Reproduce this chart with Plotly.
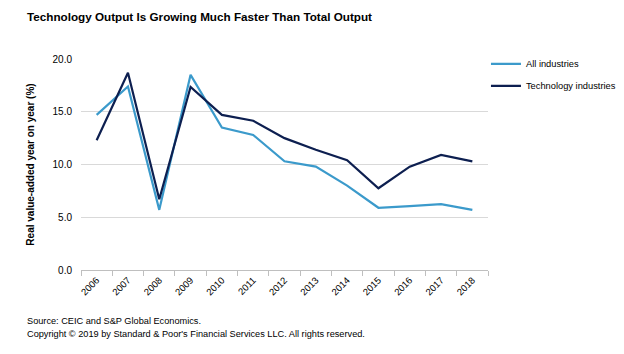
import plotly.graph_objects as go

years = [str(y) for y in range(2006, 2019)]
all_industries = [14.7, 17.4, 5.7, 18.5, 13.5, 12.8, 10.3, 9.8, 8.0, 5.9, 6.05, 6.25, 5.7]
tech_industries = [12.3, 18.7, 6.7, 17.35, 14.7, 14.15, 12.5, 11.4, 10.4, 7.75, 9.8, 10.9, 10.3]

FONT = "Liberation Sans, Arial, sans-serif"

fig = go.Figure()
fig.add_trace(go.Scatter(x=years, y=all_industries, mode="lines", name="All industries",
                         legendgroup="a", line=dict(color="#3B9ACB", width=2.2)))
fig.add_trace(go.Scatter(x=years, y=tech_industries, mode="lines", name="Technology industries",
                         legendgroup="b", line=dict(color="#0D1F50", width=2.2)))

fig.update_layout(
    width=624, height=354,
    margin=dict(l=81, r=136, t=59, b=84, autoexpand=False),
    paper_bgcolor="white", plot_bgcolor="white",
    font=dict(family=FONT, size=10, color="#000000"),
    title=dict(text="<b>Technology Output Is Growing Much Faster Than Total Output</b>",
               x=27/624, xanchor="left", xref="container",
               y=1-17/354, yanchor="middle", yref="container",
               font=dict(family=FONT, size=11.7, color="#000000")),
    showlegend=True,
    legend=dict(x=0.995, y=1.046, xanchor="left", yanchor="top",
                font=dict(family=FONT, size=9.3, color="#000000"),
                bgcolor="rgba(0,0,0,0)", tracegroupgap=3, itemwidth=30),
    xaxis=dict(type="category", range=[-0.5, len(years) - 0.5], showgrid=False,
               showline=True, linecolor="#BFBFBF", linewidth=1,
               ticks="outside", tickson="boundaries", ticklen=5, tickcolor="#BFBFBF",
               tickangle=-45, tickfont=dict(family=FONT, size=9.5, color="#000000"),
               zeroline=False, automargin=False),
    yaxis=dict(range=[0, 20], dtick=5, tickformat=".1f", showgrid=True, gridcolor="#D9D9D9",
               gridwidth=1, zeroline=False, showline=False,
               ticks="outside", ticklen=6, tickcolor="rgba(0,0,0,0)", automargin=False,
               tickfont=dict(family=FONT, size=10, color="#000000"),
               title=dict(text="<b>Real value-added year on year (%)</b>",
                          font=dict(family=FONT, size=10, color="#000000"), standoff=16)),
)

fig.add_annotation(text="Source: CEIC and S&P Global Economics.", xref="paper", yref="paper",
                   x=(25-81)/407, y=(270-321)/211, xanchor="left", yanchor="middle",
                   showarrow=False, font=dict(family=FONT, size=9.2, color="#000000"))
fig.add_annotation(text="Copyright © 2019 by Standard & Poor's Financial Services LLC. All rights reserved.",
                   xref="paper", yref="paper",
                   x=(25-81)/407, y=(270-334)/211, xanchor="left", yanchor="middle",
                   showarrow=False, font=dict(family=FONT, size=9.2, color="#000000"))

fig.write_html("out.html")
